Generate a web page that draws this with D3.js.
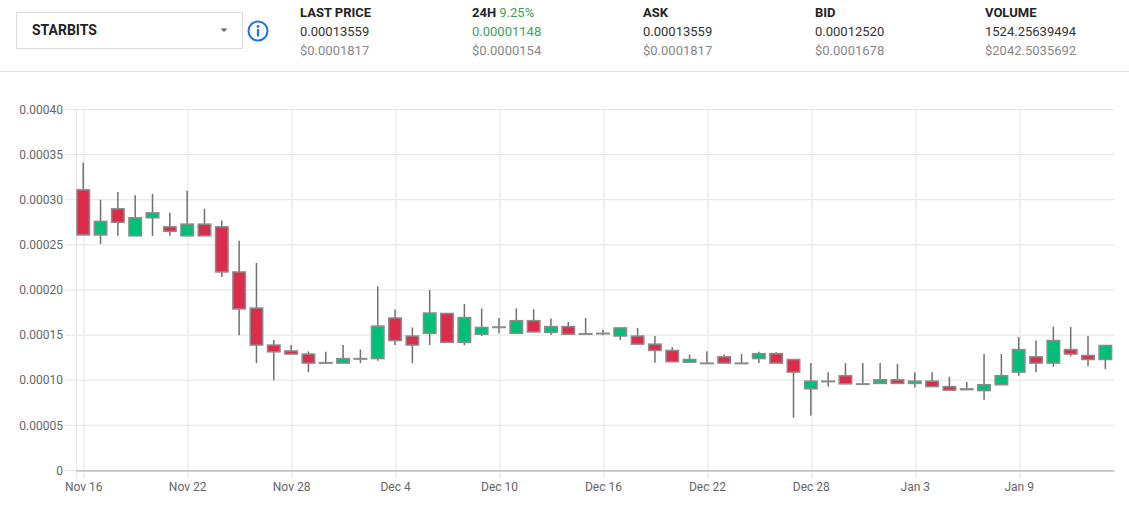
<!DOCTYPE html>
<html>
<head>
    <title>STARBITS candles</title>
    <script src="https://d3js.org/d3.v7.min.js"></script>
    <style>
        body { margin: 0; background: #fff; font-family: Roboto, "Noto Sans", sans-serif; }
        svg text { font-family: Roboto, "Noto Sans", sans-serif; }
    </style>
</head>
<body>
<svg id="chart" width="1129" height="505"></svg>
<script>
// header figures
const tickerName = "STARBITS";
const statLabels = ["LAST PRICE", "24H", "ASK", "BID", "VOLUME"];
const statValues = ["0.00013559", "0.00001148", "0.00013559", "0.00012520", "1524.25639494"];
const statUsd = ["$0.0001817", "$0.0000154", "$0.0001817", "$0.0001678", "$2042.5035692"];
const changePct = "9.25%";

// daily candles, Nov 16 -> Jan 14, prices in units of 0.00001
const firstDay = new Date(2017, 10, 16);
const lastDay = new Date(2018, 0, 14);
const opens = [31.1, 26.1, 29.0, 26.0, 28.0, 27.0, 26.0, 27.3, 27.0, 22.0,
               18.0, 13.9, 13.25, 12.9, 11.95, 11.9, 12.4, 12.4, 16.9, 14.9,
               15.2, 17.4, 14.2, 15.1, 15.85, 15.2, 16.6, 15.3, 15.95, 15.15,
               15.2, 14.9, 14.9, 14.0, 13.3, 12.0, 11.9, 12.6, 11.9, 12.4,
               12.95, 12.3, 9.05, 9.9, 10.5, 9.6, 9.65, 10.05, 9.65, 9.9,
               9.3, 8.95, 8.85, 9.5, 10.9, 12.6, 11.9, 13.4, 12.75, 12.3];
const highs = [34.1, 30.0, 30.85, 30.5, 30.65, 28.55, 31.0, 29.0, 27.7, 25.45,
               23.0, 14.45, 13.9, 13.2, 13.15, 13.9, 13.4, 20.4, 17.85, 15.85,
               20.0, 17.4, 18.45, 17.95, 16.9, 17.95, 17.85, 16.85, 16.45, 16.9,
               15.6, 15.8, 15.8, 14.9, 13.65, 12.85, 13.2, 12.85, 12.9, 13.15,
               13.1, 12.3, 11.9, 10.9, 11.9, 11.9, 11.9, 11.8, 10.9, 10.9,
               10.4, 9.8, 12.9, 12.9, 14.8, 14.4, 15.95, 15.9, 14.9, 13.85];
const lows = [26.1, 25.1, 26.0, 26.0, 26.0, 26.0, 26.0, 26.0, 21.45, 15.0,
              11.9, 10.0, 12.9, 10.9, 11.9, 11.9, 11.9, 12.15, 13.9, 11.9,
              13.9, 14.2, 13.9, 14.9, 15.2, 15.2, 15.35, 15.05, 15.1, 15.15,
              15.0, 14.45, 14.0, 11.95, 12.05, 11.95, 11.9, 11.9, 11.9, 11.9,
              11.9, 5.85, 6.1, 9.3, 9.6, 9.6, 9.65, 9.65, 9.2, 9.3,
              8.9, 8.95, 7.85, 9.5, 10.5, 10.9, 11.5, 12.65, 11.55, 11.25];
const closes = [26.1, 27.6, 27.5, 28.0, 28.55, 26.5, 27.3, 26.0, 22.0, 17.9,
                13.9, 13.15, 12.9, 11.9, 11.9, 12.4, 12.4, 16.0, 14.4, 13.9,
                17.45, 14.2, 16.95, 15.85, 15.9, 16.6, 15.35, 15.95, 15.1, 15.15,
                15.2, 15.8, 14.0, 13.3, 12.05, 12.3, 11.9, 11.9, 11.9, 12.95,
                11.9, 10.9, 9.9, 9.9, 9.6, 9.6, 10.05, 9.65, 9.9, 9.3,
                8.9, 9.05, 9.5, 10.5, 13.4, 11.9, 14.4, 12.9, 12.3, 13.85];
const yTicks = [0, 5, 10, 15, 20, 25, 30, 35, 40];

const days = d3.timeDay.range(firstDay, d3.timeDay.offset(lastDay, 1));
const candles = days.map((d, i) => ({date: d, o: opens[i], h: highs[i], l: lows[i], c: closes[i]}));

const svg = d3.select("#chart");
const upColor = "#00bf78", downColor = "#db2c4b";

// ---- header ----
svg.append("rect").attr("x", 16.5).attr("y", 12.5).attr("width", 226).attr("height", 36)
    .attr("fill", "#fff").attr("stroke", "#dcdcdc");
svg.append("text").attr("x", 32).attr("y", 35).attr("font-size", 14).attr("font-weight", "bold")
    .attr("fill", "#222").text(tickerName);
svg.append("path").attr("d", "M220.5,28.5 L227.5,28.5 L224,32 Z").attr("fill", "#666");
svg.append("circle").attr("cx", 258).attr("cy", 31).attr("r", 9.5)
    .attr("fill", "none").attr("stroke", "#1a73e8").attr("stroke-width", 2);
svg.append("circle").attr("cx", 258).attr("cy", 26.5).attr("r", 1.4).attr("fill", "#1a73e8");
svg.append("rect").attr("x", 256.9).attr("y", 29).attr("width", 2.2).attr("height", 7.5).attr("fill", "#1a73e8");

const colX = [300, 472, 643, 815, 985];
statLabels.forEach((lab, i) => {
    const t = svg.append("text").attr("x", colX[i]).attr("y", 17).attr("font-size", 13)
        .attr("font-weight", "bold").attr("fill", "#222").text(lab);
    if (lab === "24H") t.append("tspan").attr("fill", "#3ca55c").attr("font-weight", "normal").text(" " + changePct);
    svg.append("text").attr("x", colX[i]).attr("y", 36).attr("font-size", 13)
        .attr("fill", lab === "24H" ? "#3ca55c" : "#333").text(statValues[i]);
    svg.append("text").attr("x", colX[i]).attr("y", 55).attr("font-size", 13)
        .attr("fill", "#888").text(statUsd[i]);
});
svg.append("line").attr("x1", 0).attr("x2", 1129).attr("y1", 71.5).attr("y2", 71.5)
    .attr("stroke", "#e2e2e2");

// ---- chart ----
const x = d3.scaleTime()
    .domain([d3.timeHour.offset(firstDay, -9.7), d3.timeHour.offset(lastDay, 12)])
    .range([76, 1114]);
const y = d3.scaleLinear().domain([0, 40]).range([470.5, 109.5]);
const xTicks = d3.timeDay.range(firstDay, d3.timeDay.offset(lastDay, 1), 6);
const bw = 12.5;

// horizontal grid + y labels
svg.append("g").selectAll("line").data(yTicks).join("line")
    .attr("x1", 65).attr("x2", 1114)
    .attr("y1", d => y(d)).attr("y2", d => y(d))
    .attr("stroke", "#e3e3e3");
svg.append("g").selectAll("text").data(yTicks).join("text")
    .attr("x", 63).attr("y", d => y(d)).attr("dy", "0.35em")
    .attr("text-anchor", "end").attr("font-size", 12).attr("fill", "#666")
    .text(d => d === 0 ? "0" : (d / 1e5).toFixed(5));

// vertical grid
svg.append("line").attr("x1", 76.5).attr("x2", 76.5).attr("y1", 109.5).attr("y2", 478)
    .attr("stroke", "#e3e3e3");
const xAxis = svg.append("g").attr("transform", "translate(0,470.5)")
    .call(d3.axisBottom(x).tickValues(xTicks).tickFormat(d3.timeFormat("%b %-d"))
        .tickSize(8).tickSizeOuter(0));
xAxis.select(".domain").attr("stroke", "#a6a6a6");
xAxis.selectAll(".tick line").attr("stroke", "#e3e3e3")
    .attr("y1", -361).attr("y2", 8).attr("transform", d => `translate(${Math.round(x(d)) + 0.5 - x(d)},0)`);
xAxis.selectAll(".tick text").attr("fill", "#666").attr("font-size", 12)
    .attr("font-family", "Roboto, sans-serif").attr("y", 12);
xAxis.select(".domain").raise();

// candles
const cg = svg.append("g");
cg.selectAll("line.wick").data(candles).join("line")
    .attr("class", "wick")
    .attr("x1", d => x(d.date)).attr("x2", d => x(d.date))
    .attr("y1", d => y(d.h)).attr("y2", d => y(d.l))
    .attr("stroke", "#707070").attr("stroke-width", 1.5);
cg.selectAll("rect.body").data(candles).join("rect")
    .attr("class", "body")
    .attr("x", d => x(d.date) - bw / 2).attr("width", bw)
    .attr("y", d => y(Math.max(d.o, d.c)))
    .attr("height", d => Math.max(0.5, Math.abs(y(d.o) - y(d.c))))
    .attr("fill", d => d.c > d.o ? upColor : d.c < d.o ? downColor : "#888")
    .attr("stroke", "#8c8c8c").attr("stroke-width", 1.5);
</script>
</body>
</html>
